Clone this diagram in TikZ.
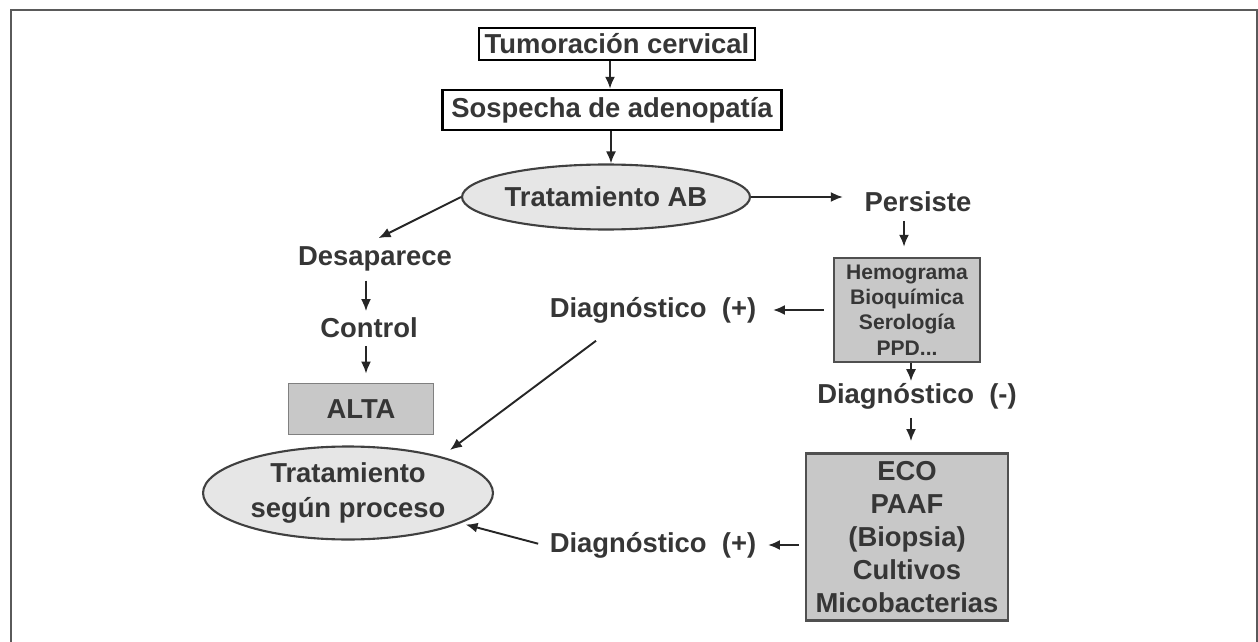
\documentclass[tikz,border=0pt]{standalone}
\usepackage{fontspec}
\setmainfont{Liberation Sans}
\usetikzlibrary{shapes.geometric,arrows.meta}

\definecolor{txtgray}{HTML}{363636}
\definecolor{boxfill}{HTML}{C8C8C8}
\definecolor{boxline}{HTML}{505050}
\definecolor{ovalfill}{HTML}{E6E6E6}
\definecolor{framecol}{HTML}{5A5A5A}
\newcommand{\bigtxt}{\fontsize{15.6}{19.5}\selectfont\bfseries}
\newcommand{\smalltxt}{\fontsize{12}{14.5}\selectfont\bfseries}

\begin{document}
\begin{tikzpicture}[x=0.02cm, y=-0.02cm, line width=1.1pt,
  every node/.style={text=txtgray, font=\bigtxt, align=center},
  whitebox/.style={draw=black, line width=1.4pt, fill=white, inner sep=0pt},
  greybox/.style={draw=boxline, line width=1.4pt, fill=boxfill, inner sep=0pt},
  altabox/.style={draw=gray, line width=1pt, fill=boxfill, inner sep=0pt},
  oval/.style={ellipse, draw=black!75, line width=1.2pt, fill=ovalfill, inner sep=0pt},
  arr/.style={draw=black!85, -{Latex[length=0.24cm,width=0.2cm]}}]
  \useasboundingbox (0,0) rectangle (1258,642);
  \draw[framecol, line width=1.2pt] (11,642) -- (11,10) -- (1257,10) -- (1257,642);

  % top of the chart
  \node[whitebox, minimum width=5.52cm, minimum height=0.64cm] (tum) at (617,44) {Tumoración cervical};
  \node[whitebox, minimum width=6.78cm, minimum height=0.8cm] (sosp) at (612,110) {Sospecha de adenopatía};
  \node[oval, minimum width=5.76cm, minimum height=1.3cm] (tab) at (606,197) {Tratamiento AB};

  % left branch
  \node (desap) at (375,259) {Desaparece};
  \node (ctrl) at (369,328) {Control};
  \node[altabox, minimum width=2.9cm, minimum height=1.02cm] (alta) at (361,409) {ALTA};

  % right branch
  \node (pers) at (918,202) {Persiste};
  \node[greybox, font=\smalltxt, minimum width=2.92cm, minimum height=2.08cm] (hemo) at (907,310)
    {Hemograma\\Bioquímica\\Serología\\PPD...};
  \node (dpos1) at (653,310) {Diagnóstico\ \ (+)};
  \node (dneg) at (917,396) {Diagnóstico\ \ (-)};
  \node[greybox, line width=1.6pt, font=\fontsize{15.6}{18.9}\selectfont\bfseries,
    minimum width=4.04cm, minimum height=3.34cm] (eco) at (907,537)
    {ECO\\PAAF\\(Biopsia)\\Cultivos\\Micobacterias};
  \node (dpos2) at (653,545) {Diagnóstico\ \ (+)};
  \node[oval, minimum width=5.8cm, minimum height=1.86cm] (tsp) at (348,493)
    {Tratamiento\\según proceso};

  % connectors
  \draw[arr] (tum.south -| 610,0) -- (sosp.north -| 610,0);
  \draw[arr] (sosp.south -| 611,0) -- (tab.north -| 611,0);
  \draw[arr] (tab.east) -- (tab.east -| pers.west) [shorten >=0.3cm];
  \draw[arr, shorten >=0.08cm] (tab.west) -- (desap.north);
  \draw[arr, shorten <=0.05cm] (desap.south -| 366,0) -- (ctrl.north -| 366,0);
  \draw[arr, shorten <=0.02cm, shorten >=0.18cm] (ctrl.south -| 366,0) -- (alta.north -| 366,0);
  \draw[arr, shorten <=0.04cm, shorten >=0.2cm] (pers.south -| 904,0) -- (hemo.north -| 904,0);
  \draw[arr, shorten <=0.18cm, shorten >=0.2cm] (hemo.west) -- (hemo.west -| dpos1.east);
  \draw[arr, shorten >=-0.1cm] (hemo.south -| 911,0) -- (dneg.north -| 911,0);
  \draw[arr, shorten <=0.04cm, shorten >=0.22cm] (dneg.south -| 911,0) -- (eco.north -| 911,0);
  \draw[arr, shorten <=0.12cm, shorten >=0.1cm] (eco.west |- dpos2) -- (dpos2.east);
  \draw[arr, shorten <=0.1cm, shorten >=0.1cm] (dpos2.west) -- (tsp.-15);
  \draw[arr] ([shift={(-1.14cm,-0.22cm)}]dpos1.south) -- ([shift={(2.04cm,0.86cm)}]tsp.center);
\end{tikzpicture}
\end{document}
